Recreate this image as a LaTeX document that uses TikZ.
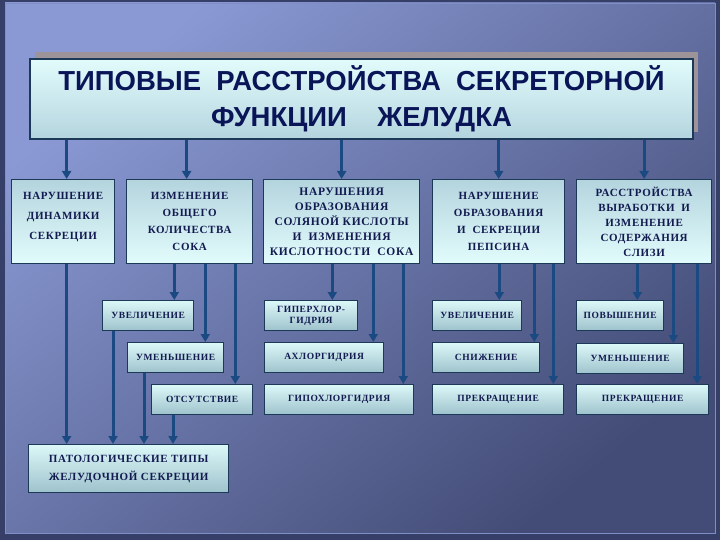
\documentclass[tikz,border=0pt]{standalone}
\usepackage{fontspec}
\setmainfont{Liberation Serif}
\newfontfamily\boxfont{Liberation Serif}[LetterSpace=6]
\newfontfamily\titlefont{Liberation Sans}
\usetikzlibrary{arrows.meta}

\definecolor{bgout}{HTML}{363F68}
\definecolor{bglight}{HTML}{8A99D4}
\definecolor{bgmid}{HTML}{5E6CA6}
\definecolor{bgdark}{HTML}{434C76}
\definecolor{frameline}{HTML}{7F8EC6}
\definecolor{boxedge}{HTML}{1C3A58}
\definecolor{boxtext}{HTML}{121A50}
\definecolor{titletext}{HTML}{0A1558}
\definecolor{arrowblue}{HTML}{1B4A82}
\definecolor{shadowgray}{HTML}{9C9498}
\definecolor{headtop}{HTML}{B4D4DE}
\definecolor{headbot}{HTML}{E2FCFC}
\definecolor{subtop}{HTML}{DCF8F8}
\definecolor{subbot}{HTML}{9EC2CC}

\tikzset{
  box/.style={draw=boxedge, line width=1.3pt, anchor=north west, inner sep=0pt,
    align=center, text=boxtext},
  headbox/.style={box, minimum height=84pt, top color=headtop, bottom color=headbot,
    font=\boxfont\bfseries\fontsize{11}{15}\selectfont},
  subbox/.style={box, minimum height=30pt, top color=subtop, bottom color=subbot,
    font=\boxfont\bfseries\fontsize{9.5}{11}\selectfont},
  arr/.style={draw=arrowblue, line width=3pt, -{Triangle[width=9pt,length=8pt]}}
}

\begin{document}
\begin{tikzpicture}[x=1pt, y=-1pt]
    \useasboundingbox (0,0) rectangle (720,540);
    % фон слайда
    \fill[bgout] (0,0) rectangle (720,540);
    \shade[top color=bglight, middle color=bgmid, bottom color=bgdark, shading angle=40]
        (5,3) rectangle (715,533);
    \draw[frameline, line width=0.8pt] (5,3) rectangle (715,533);

    % заголовок
    \fill[shadowgray] (35,52) rectangle (698,132);
    \node[box, line width=2pt, minimum width=663pt, minimum height=80pt,
        top color=headbot, bottom color=headtop, text=titletext,
        font=\titlefont\bfseries\fontsize{27.5}{35.5}\selectfont] (title) at (29,58)
        {ТИПОВЫЕ\ \ РАССТРОЙСТВА\ \ СЕКРЕТОРНОЙ\\ФУНКЦИИ\ \ \ \ ЖЕЛУДКА};

    % первый ряд
    \node[headbox, minimum width=103pt, text depth=12pt,
        font=\boxfont\bfseries\fontsize{11}{20}\selectfont] (dyn) at (11,179)
        {НАРУШЕНИЕ\\ДИНАМИКИ\\СЕКРЕЦИИ};
    \node[headbox, minimum width=126pt, font=\boxfont\bfseries\fontsize{11}{17}\selectfont] (vol) at (126,179)
        {ИЗМЕНЕНИЕ\\ОБЩЕГО\\КОЛИЧЕСТВА\\СОКА};
    \node[headbox, minimum width=156pt, font=\boxfont\bfseries\fontsize{11.5}{15}\selectfont] (acid) at (263,179)
        {НАРУШЕНИЯ\\ОБРАЗОВАНИЯ\\СОЛЯНОЙ КИСЛОТЫ\\И\ \ ИЗМЕНЕНИЯ\\КИСЛОТНОСТИ\ \ СОКА};
    \node[headbox, minimum width=132pt, font=\boxfont\bfseries\fontsize{11}{17}\selectfont] (peps) at (432,179)
        {НАРУШЕНИЕ\\ОБРАЗОВАНИЯ\\И\ \ СЕКРЕЦИИ\\ПЕПСИНА};
    \node[headbox, minimum width=135pt] (muc) at (576,179)
        {РАССТРОЙСТВА\\ВЫРАБОТКИ\ \ И\\ИЗМЕНЕНИЕ\\СОДЕРЖАНИЯ\\СЛИЗИ};

    % количество сока
    \node[subbox, minimum width=91pt] (inc1) at (102,300) {УВЕЛИЧЕНИЕ};
    \node[subbox, minimum width=96pt] (dec1) at (127,342) {УМЕНЬШЕНИЕ};
    \node[subbox, minimum width=101pt] (abs1) at (151,384) {ОТСУТСТВИЕ};
    % кислотность
    \node[subbox, minimum width=93pt] (hyper) at (264,300) {ГИПЕРХЛОР-\\ГИДРИЯ};
    \node[subbox, minimum width=119pt] (achl) at (264,342) {АХЛОРГИДРИЯ};
    \node[subbox, minimum width=149pt] (hypo) at (264,384) {ГИПОХЛОРГИДРИЯ};
    % пепсин
    \node[subbox, minimum width=89pt] (inc2) at (432,300) {УВЕЛИЧЕНИЕ};
    \node[subbox, minimum width=107pt] (red2) at (432,342) {СНИЖЕНИЕ};
    \node[subbox, minimum width=131pt] (stop2) at (432,384) {ПРЕКРАЩЕНИЕ};
    % слизь
    \node[subbox, minimum width=87pt] (rise3) at (576,300) {ПОВЫШЕНИЕ};
    \node[subbox, minimum width=107pt] (dec3) at (576,343) {УМЕНЬШЕНИЕ};
    \node[subbox, minimum width=132pt] (stop3) at (576,384) {ПРЕКРАЩЕНИЕ};

    % итог
    \node[subbox, minimum width=200pt, minimum height=48pt,
        font=\boxfont\bfseries\fontsize{11}{18}\selectfont] (pat) at (28,444)
        {ПАТОЛОГИЧЕСКИЕ ТИПЫ\\ЖЕЛУДОЧНОЙ СЕКРЕЦИИ};

    % стрелки от заголовка
    \draw[arr] ([xshift=3.5]dyn.north |- title.south) -- ([xshift=3.5]dyn.north);
    \draw[arr] ([xshift=-3]vol.north |- title.south) -- ([xshift=-3]vol.north);
    \foreach \n in {acid, peps, muc}
        \draw[arr] (\n.north |- title.south) -- (\n.north);

    % стрелки к вариантам
    \foreach \from/\to/\dx in {vol/inc1/-20, vol/dec1/-19, vol/abs1/-18,
        acid/hyper/-26, acid/achl/-11, acid/hypo/-11,
        peps/inc2/-23, peps/red2/-6, peps/stop2/-11,
        muc/rise3/-27, muc/dec3/-11, muc/stop3/-12}
        \draw[arr] ([xshift=\dx]\to.north east |- \from.south) -- ([xshift=\dx]\to.north east);

    % стрелки к итогу
    \draw[arr] ([xshift=3.5]dyn.south) -- ([xshift=3.5]dyn.south |- pat.north);
    \foreach \from/\dx in {inc1/11, dec1/17, abs1/22}
        \draw[arr] ([xshift=\dx]\from.south west) -- ([xshift=\dx]\from.south west |- pat.north);
\end{tikzpicture}
\end{document}
